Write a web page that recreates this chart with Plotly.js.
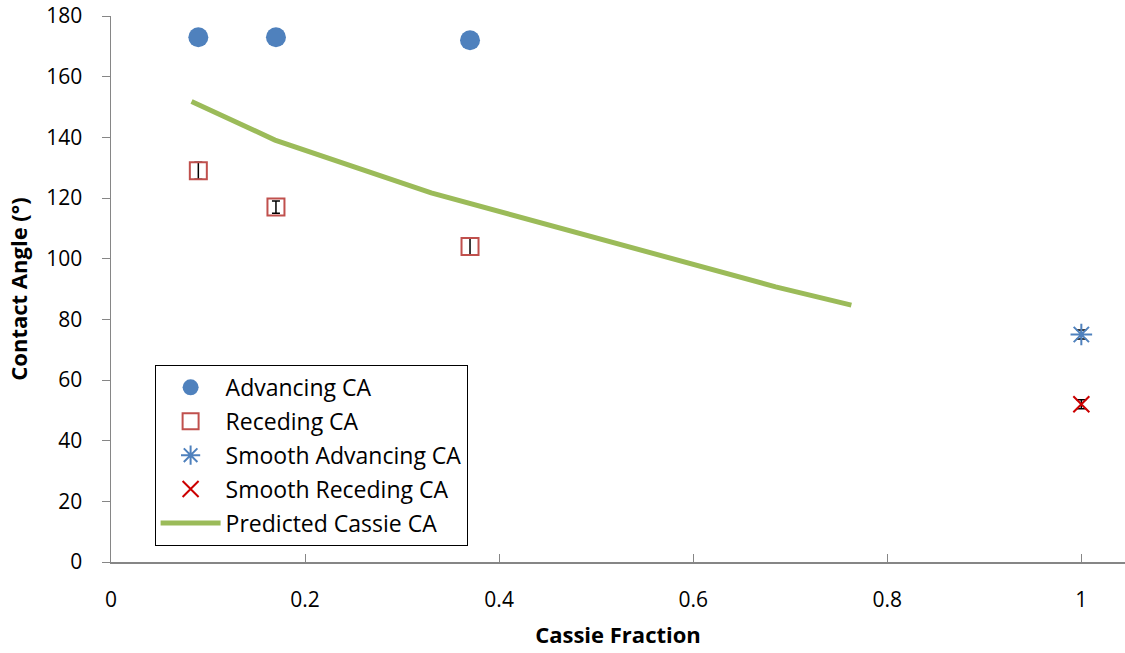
<!DOCTYPE html>
<html>
<head>
<meta charset="utf-8">
<script src="https://cdn.plot.ly/plotly-3.0.1.min.js"></script>
<style>html,body{margin:0;padding:0;background:#fff;}#chart{width:1125px;height:653px;}</style>
</head>
<body>
<div id="chart"></div>
<script>
// Data
const fraction = [0.09, 0.17, 0.37];
const advancingCA = [173, 173, 172];
const recedingCA = [129, 117, 104];
const recedingErr = [2.8, 2.0, 2.8];
const smoothFraction = [1.0];
const smoothAdvancingCA = [75];
const smoothAdvancingErr = [1.5];
const smoothRecedingCA = [52];
const smoothRecedingErr = [1.5];
const cassieFraction = [0.083, 0.169, 0.330, 0.685, 0.763];
const cassieCA = [151.8, 139.1, 121.7, 90.7, 84.7];
const xTicks = [0, 0.2, 0.4, 0.6, 0.8, 1];
const xTickLabels = ['0', '0.2', '0.4', '0.6', '0.8', '1'];
const yTicks = [0, 20, 40, 60, 80, 100, 120, 140, 160, 180];

const FONT = '"Open Sans", Lato, sans-serif';

const traces = [
  {
    x: fraction, y: advancingCA, name: 'Advancing CA', type: 'scatter', mode: 'markers', legendgroup: 'a',
    marker: {symbol: 'circle', size: 20, color: '#4F81BD'}
  },
  {
    x: fraction, y: recedingCA, name: 'Receding CA', type: 'scatter', mode: 'markers', legendgroup: 'b',
    marker: {symbol: 'square-open', size: 17, color: '#C0504D', line: {width: 2, color: '#C0504D'}},
    error_y: {type: 'data', array: recedingErr, visible: true, color: '#000', thickness: 1.5, width: 4}
  },
  {
    x: smoothFraction, y: smoothAdvancingCA, name: 'Smooth Advancing CA', type: 'scatter', mode: 'markers', legendgroup: 'c',
    marker: {symbol: 'asterisk-open', size: 18, color: '#4F81BD', line: {width: 2, color: '#4F81BD'}},
    error_y: {type: 'data', array: smoothAdvancingErr, visible: true, color: '#000', thickness: 1.5, width: 5}
  },
  {
    x: smoothFraction, y: smoothRecedingCA, name: 'Smooth Receding CA', type: 'scatter', mode: 'markers', legendgroup: 'd',
    marker: {symbol: 'x-thin-open', size: 16, color: '#CC0000', line: {width: 2, color: '#CC0000'}},
    error_y: {type: 'data', array: smoothRecedingErr, visible: true, color: '#000', thickness: 1.5, width: 5}
  },
  {
    x: cassieFraction, y: cassieCA, name: 'Predicted Cassie CA', type: 'scatter', mode: 'lines', legendgroup: 'e',
    line: {color: '#9BBB59', width: 5}
  }
];

const layout = {
  width: 1125, height: 653,
  margin: {l: 111, r: 0, t: 16, b: 91},
  paper_bgcolor: '#fff', plot_bgcolor: '#fff',
  font: {family: FONT, size: 20, color: '#000'},
  showlegend: true,
  legend: {
    x: 0.043, y: 0.361, xanchor: 'left', yanchor: 'top',
    bordercolor: '#000', borderwidth: 1, bgcolor: '#fff',
    font: {family: FONT, size: 23, color: '#000'},
    itemwidth: 60, tracegroupgap: 1
  },
  xaxis: {
    range: [0, 1.045], tickvals: xTicks, ticktext: xTickLabels,
    showgrid: false, zeroline: false, showline: true, linecolor: '#868686', linewidth: 1.5,
    ticks: 'inside', ticklen: 8, tickcolor: '#868686', tickwidth: 1,
    ticklabelstandoff: 18,
    tickfont: {family: FONT, size: 21, color: '#000'},
    title: {text: 'Cassie Fraction', font: {family: FONT, size: 22, color: '#000', weight: 'bold'}, standoff: 16}
  },
  yaxis: {
    range: [0, 180], tickvals: yTicks,
    showgrid: false, zeroline: false, showline: true, linecolor: '#868686', linewidth: 1.5,
    ticks: 'outside', ticklen: 8, tickcolor: '#868686', tickwidth: 1,
    ticklabelstandoff: 15,
    tickfont: {family: FONT, size: 21, color: '#000'},
    title: {text: 'Contact Angle (°)', font: {family: FONT, size: 22, color: '#000', weight: 'bold'}, standoff: 12}
  }
};

Plotly.newPlot('chart', traces, layout, {displayModeBar: false, staticPlot: true});
</script>
</body>
</html>
